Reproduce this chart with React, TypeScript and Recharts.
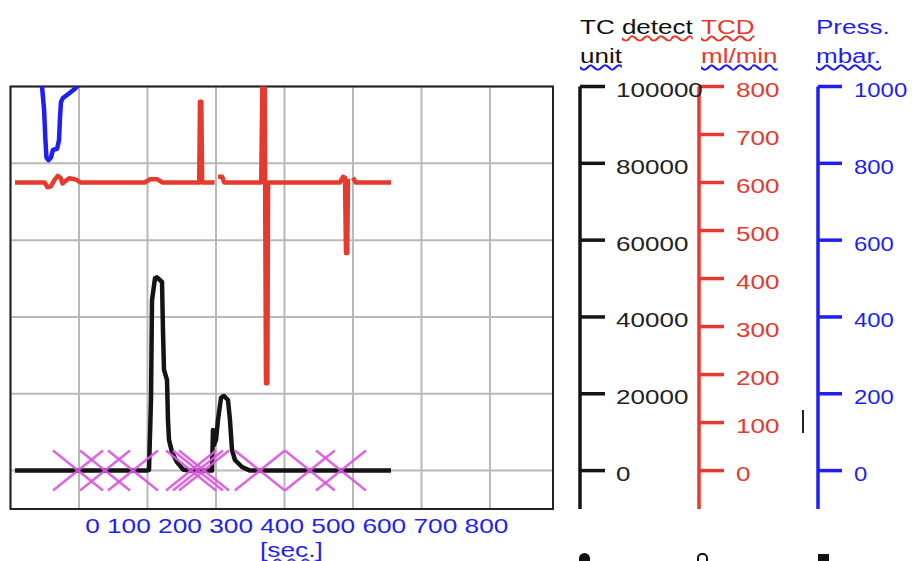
import React from "react";
import {
  ComposedChart,
  Line,
  Scatter,
  XAxis,
  YAxis,
  CartesianGrid,
  ReferenceArea,
} from "recharts";

const RED = "#e63a2e";
const BLUE = "#1f1ff2";
const BLACK = "#141414";
const MAGENTA = "#d957de";
const GRID = "#b9b9b9";
const FONT = "'Liberation Sans', Arial, Helvetica, sans-serif";

// x grid (seconds, grid scale) and printed x labels
const X_GRID_TICKS = [-100, 0, 100, 200, 300, 400, 500, 600];
const X_TICK_LABELS = ["0", "100", "200", "300", "400", "500", "600", "700", "800"];

// y ticks
const TC_TICKS = [0, 20000, 40000, 60000, 80000, 100000];
const FLOW_TICKS = [0, 100, 200, 300, 400, 500, 600, 700, 800];
const PRESS_TICKS = [0, 200, 400, 600, 800, 1000];

// TC detector signal (unit)
const TC_SERIES = [
  { t: -93.4, v: 0 },
  { t: 100, v: 0 },
  { t: 102.2, v: 200 },
  { t: 105.1, v: 18400 },
  { t: 106.6, v: 44400 },
  { t: 111, v: 50100 },
  { t: 113.9, v: 50300 },
  { t: 121.2, v: 49100 },
  { t: 122.6, v: 36600 },
  { t: 124.1, v: 26200 },
  { t: 128.5, v: 23600 },
  { t: 129.9, v: 13200 },
  { t: 131.4, v: 8000 },
  { t: 135.8, v: 4800 },
  { t: 143.1, v: 2200 },
  { t: 151.8, v: 300 },
  { t: 160, v: 0 },
  { t: 194.2, v: 0 },
  { t: 195.6, v: 10570 },
  { t: 197.1, v: 6660 },
  { t: 200, v: 7960 },
  { t: 202.9, v: 13170 },
  { t: 207.3, v: 18900 },
  { t: 211.7, v: 19420 },
  { t: 217.5, v: 18380 },
  { t: 220.4, v: 13170 },
  { t: 223.4, v: 5360 },
  { t: 227.7, v: 2760 },
  { t: 238, v: 940 },
  { t: 249.6, v: 0 },
  { t: 455.5, v: 0 },
];

// TCD flow (ml/min)
const FLOW_SERIES = [
  { t: -93.4, v: 600 },
  { t: -50, v: 600 },
  { t: -46, v: 590 },
  { t: -41, v: 592 },
  { t: -36, v: 605 },
  { t: -31, v: 614 },
  { t: -27, v: 610 },
  { t: -24, v: 598 },
  { t: -20, v: 603 },
  { t: -14, v: 609 },
  { t: -4, v: 606 },
  { t: 2, v: 600 },
  { t: 96, v: 600 },
  { t: 104, v: 607 },
  { t: 114, v: 607 },
  { t: 122, v: 600 },
  { t: 175.5, v: 600 },
  { t: 176.6, v: 768 },
  { t: 178.6, v: 768 },
  { t: 179.8, v: 600 },
  { t: 198, v: 600 },
  { t: 200, v: null },
  { t: 203, v: 612 },
  { t: 209, v: 612 },
  { t: 212, v: 600 },
  { t: 266, v: 600 },
  { t: 268, v: 840 },
  { t: 271, v: 840 },
  { t: 273, v: 182 },
  { t: 275, v: 182 },
  { t: 276, v: 600 },
  { t: 381, v: 600 },
  { t: 385.4, v: 612 },
  { t: 388.3, v: 610 },
  { t: 389.8, v: 453 },
  { t: 391.6, v: 453 },
  { t: 392.7, v: 608 },
  { t: 394, v: null },
  { t: 400, v: 610 },
  { t: 404, v: 600 },
  { t: 455.5, v: 600 },
];

// Pressure (mbar)
const PRESS_SERIES = [
  { t: -60, v: 1040 },
  { t: -54, v: 1000 },
  { t: -51, v: 940 },
  { t: -49, v: 860 },
  { t: -47.5, v: 815 },
  { t: -44.5, v: 808 },
  { t: -41, v: 815 },
  { t: -38, v: 835 },
  { t: -32, v: 838 },
  { t: -29.2, v: 860 },
  { t: -27.7, v: 920 },
  { t: -26.3, v: 960 },
  { t: -23.4, v: 970 },
  { t: -16, v: 980 },
  { t: -7.3, v: 992 },
  { t: -1.5, v: 1002 },
  { t: 8.8, v: 1013 },
  { t: 455.5, v: 1013 },
];

// injection markers on the baseline
const MARKER_TIMES = [-1.5, 38, 78.8, 163.5, 173.7, 182.5, 264, 337, 382.5];
const MARKERS = MARKER_TIMES.map((t) => ({ t, v: 0 }));

const StretchTick = (props: any) => {
  const { x, y, payload, fill, stretch = 1.24 } = props;
  return (
    <g transform={`translate(${x},${y}) scale(${stretch},1)`}>
      <text
        x={0}
        y={0}
        dy="0.5em"
        textAnchor="start"
        fill={fill}
        fontSize={21}
        fontFamily={FONT}
      >
        {payload.value}
      </text>
    </g>
  );
};

const EmptyTick = () => <g />;

const XLabel = (props: any) => {
  const vb = props.viewBox || { x: 0, y: 0, width: 0, height: 0 };
  const cx = vb.x + vb.width / 2 + 15;
  return (
    <g transform={`translate(${cx},${vb.y + 24}) scale(1.25,1)`}>
      <text x={0} y={0} textAnchor="middle" fill={BLUE} fontSize={21} fontFamily={FONT}>
        {X_TICK_LABELS.join(" ")}
      </text>
    </g>
  );
};

const XMark = (props: any) => {
  const { cx, cy } = props;
  const w = 25;
  const h = 20;
  return (
    <path
      d={`M${cx - w},${cy - h}L${cx + w},${cy + h}M${cx - w},${cy + h}L${cx + w},${cy - h}`}
      stroke={MAGENTA}
      strokeWidth={2.6}
      strokeOpacity={0.9}
      fill="none"
    />
  );
};

const headBase: React.CSSProperties = {
  position: "absolute",
  fontSize: 20,
  lineHeight: "20px",
  whiteSpace: "nowrap",
  transform: "scaleX(1.3)",
  transformOrigin: "left top",
  fontFamily: FONT,
};

const wavy = (color: string): React.CSSProperties => ({
  textDecorationLine: "underline",
  textDecorationStyle: "wavy",
  textDecorationColor: color,
  textDecorationThickness: "1.5px",
});

export default function App() {
  return (
    <div style={{ position: "relative", width: 907, height: 553, fontFamily: FONT }}>
      <ComposedChart
        width={907}
        height={553}
        margin={{ top: 78.5, right: 0, bottom: 0, left: 2.5 }}
      >
        <CartesianGrid xAxisId="x" yAxisId="b_tc" stroke={GRID} strokeWidth={2} />
        <XAxis
          xAxisId="x"
          dataKey="t"
          type="number"
          domain={[-100, 692]}
          ticks={X_GRID_TICKS}
          interval={0}
          allowDataOverflow
          tick={<EmptyTick />}
          axisLine={false}
          tickLine={false}
          height={52}
          label={<XLabel />}
        />
        <YAxis
          yAxisId="a_sp"
          orientation="right"
          width={27}
          domain={[0, 1]}
          tick={false}
          axisLine={false}
          tickLine={false}
        />
        <YAxis
          yAxisId="b_tc"
          orientation="right"
          width={119}
          domain={[-10000, 100000]}
          ticks={TC_TICKS}
          interval={0}
          allowDataOverflow
          axisLine={{ stroke: BLACK, strokeWidth: 3.5 }}
          tickLine={{ stroke: BLACK, strokeWidth: 3.5 }}
          tickSize={25}
          tickMargin={11}
          tick={<StretchTick fill="#222" />}
        />
        <YAxis
          yAxisId="c_fl"
          orientation="right"
          width={119}
          domain={[-80, 800]}
          ticks={FLOW_TICKS}
          interval={0}
          allowDataOverflow
          axisLine={{ stroke: RED, strokeWidth: 3.5 }}
          tickLine={{ stroke: RED, strokeWidth: 3.5 }}
          tickSize={25}
          tickMargin={12}
          tick={<StretchTick fill={RED} />}
        />
        <YAxis
          yAxisId="d_pr"
          orientation="right"
          width={97}
          domain={[-100, 1000]}
          ticks={PRESS_TICKS}
          interval={0}
          allowDataOverflow
          axisLine={{ stroke: BLUE, strokeWidth: 3.5 }}
          tickLine={{ stroke: BLUE, strokeWidth: 3.5 }}
          tickSize={24}
          tickMargin={12}
          tick={<StretchTick fill={BLUE} stretch={1.14} />}
        />
        <Line
          xAxisId="x"
          yAxisId="b_tc"
          data={TC_SERIES}
          dataKey="v"
          stroke={BLACK}
          strokeWidth={4.5}
          strokeLinejoin="round"
          dot={false}
          isAnimationActive={false}
        />
        <Scatter
          xAxisId="x"
          yAxisId="b_tc"
          data={MARKERS}
          dataKey="v"
          shape={<XMark />}
          isAnimationActive={false}
        />
        <Line
          xAxisId="x"
          yAxisId="c_fl"
          data={FLOW_SERIES}
          dataKey="v"
          stroke={RED}
          strokeWidth={4.5}
          strokeLinejoin="round"
          dot={false}
          isAnimationActive={false}
        />
        <Line
          xAxisId="x"
          yAxisId="d_pr"
          data={PRESS_SERIES}
          dataKey="v"
          stroke={BLUE}
          strokeWidth={4.5}
          strokeLinejoin="round"
          dot={false}
          isAnimationActive={false}
        />
        <ReferenceArea
          xAxisId="x"
          yAxisId="b_tc"
          x1={-100}
          x2={692}
          y1={-10000}
          y2={100000}
          fill="none"
          stroke="#222"
          strokeWidth={2}
          ifOverflow="visible"
        />
      </ComposedChart>

      <div style={{ ...headBase, left: 572, top: 8.6, color: "#111" }}>
        TC <span style={wavy(RED)}>detect</span>
      </div>
      <div style={{ ...headBase, left: 693, top: 8.6, color: RED, ...wavy(RED) }}>TCD</div>
      <div style={{ ...headBase, left: 808, top: 8.6, color: BLUE }}>Press.</div>
      <div style={{ ...headBase, left: 572, top: 38, color: "#111", ...wavy(BLUE) }}>unit</div>
      <div style={{ ...headBase, left: 693, top: 38, color: RED, ...wavy(BLUE) }}>ml/min</div>
      <div style={{ ...headBase, left: 808, top: 38, color: BLUE, ...wavy(BLUE) }}>mbar.</div>

      <div
        style={{
          ...headBase,
          fontSize: 21,
          lineHeight: "21px",
          transform: "scaleX(1.25)",
          left: 252,
          top: 531,
          color: BLUE,
        }}
      >
        [<span style={wavy("#4848b8")}>sec.</span>]
      </div>

      <div style={{ position: "absolute", left: 794, top: 402, width: 2, height: 23, background: "#222" }} />
      <div style={{ position: "absolute", left: 571, top: 545, width: 11, height: 14, borderRadius: 6, background: "#111" }} />
      <div style={{ position: "absolute", left: 689, top: 545, width: 7, height: 12, borderRadius: 5, border: "2.5px solid #111" }} />
      <div style={{ position: "absolute", left: 810, top: 546, width: 11, height: 12, background: "#111" }} />
    </div>
  );
}
